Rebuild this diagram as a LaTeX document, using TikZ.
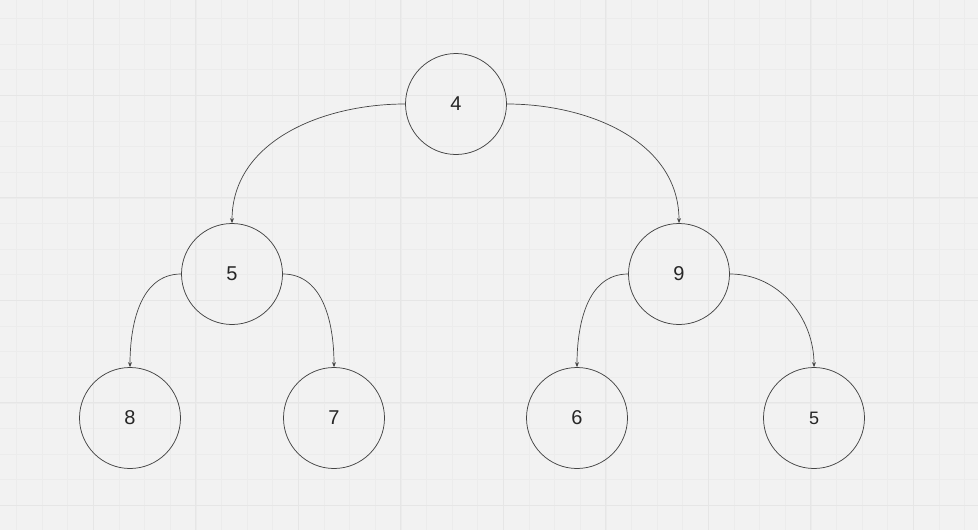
\documentclass[tikz,border=0pt]{standalone}
\usepackage{fontspec}
\setmainfont{Liberation Sans}
\usetikzlibrary{arrows.meta}
\definecolor{paper}{HTML}{F2F2F2}
\definecolor{gridminor}{HTML}{ECECEC}
\definecolor{gridmajor}{HTML}{E6E6E6}
\definecolor{ink}{HTML}{444444}
\begin{document}
\begin{tikzpicture}[x=1pt,y=-1pt,
  treenode/.style={circle,draw=ink,line width=0.75pt,minimum size=101pt,inner sep=0pt,
    font=\fontsize{20}{24}\selectfont,text=black!85},
  link/.style={draw=ink,line width=0.7pt,-{Stealth[length=5pt,width=4pt]}}]
  % canvas and grid
  \fill[paper] (0,0) rectangle (978,530);
  \useasboundingbox (0,0) rectangle (978,530);
  \foreach \i in {-3,...,35} {
    \pgfmathsetmacro{\gx}{round(93+25.625*\i)}
    \draw[gridminor,line width=0.75pt] (\gx,0) -- (\gx,530);
  }
  \foreach \i in {-3,...,18} {
    \pgfmathsetmacro{\gy}{round(95+25.625*\i)}
    \draw[gridminor,line width=0.75pt] (0,\gy) -- (978,\gy);
  }
  \foreach \gx in {93,195,298,400,503,605,708,810,913} {
    \draw[gridmajor,line width=1pt] (\gx,0) -- (\gx,530);
  }
  \foreach \gy in {95,197,300,402,505} {
    \draw[gridmajor,line width=1pt] (0,\gy) -- (978,\gy);
  }
  % tree nodes
  \node[treenode] (root) at (456,104) {4};
  \node[treenode] (l)  at (232,274) {5};
  \node[treenode] (r)  at (679,274) {9};
  \node[treenode] (ll) at (130,418) {8};
  \node[treenode] (lr) at (334,418) {7};
  \node[treenode] (rl) at (577,418) {6};
  \node[treenode,font=\fontsize{18}{22}\selectfont] (rr) at (814,418) {5};
  % connectors
  \draw[link] (root.west) to[out=180,in=90] (l.north);
  \draw[link] (root.east) to[out=0,in=90] (r.north);
  \draw[link] (l.west) to[out=180,in=90] (ll.north);
  \draw[link] (l.east) to[out=0,in=90] (lr.north);
  \draw[link] (r.west) to[out=180,in=90] (rl.north);
  \draw[link] (r.east) to[out=0,in=90] (rr.north);
\end{tikzpicture}
\end{document}
